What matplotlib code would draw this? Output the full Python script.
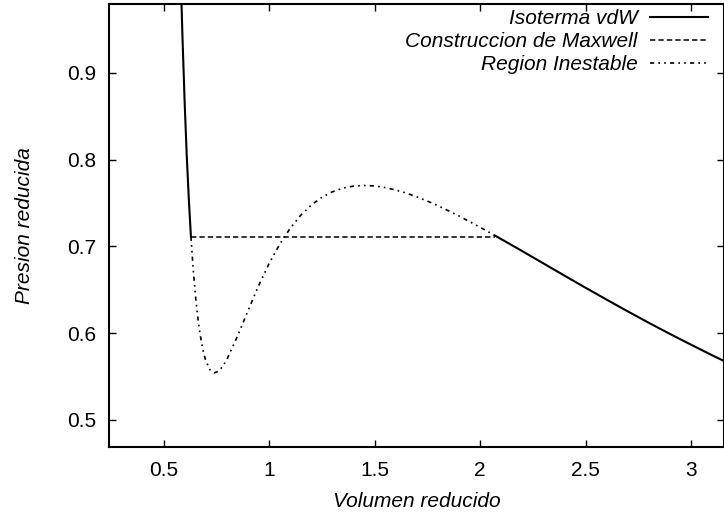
import matplotlib
matplotlib.use("Agg")
import matplotlib.pyplot as plt

plt.rcParams['font.family'] = ['Liberation Sans', 'DejaVu Sans']
plt.rcParams['font.size'] = 15

# Isoterma de van der Waals reducida (T_r = 0.92)
# rama liquida
v_liq = [0.575, 0.58, 0.585, 0.59, 0.60, 0.61, 0.62, 0.63]
p_liq = [1.078, 1.028, 0.982, 0.940, 0.867, 0.805, 0.754, 0.711]

# rama gaseosa
v_gas = [2.07, 2.10, 2.20, 2.30, 2.40, 2.50, 2.60, 2.70, 2.80, 2.90, 3.00, 3.10, 3.20]
p_gas = [0.7125, 0.7084, 0.6945, 0.6804, 0.6663, 0.6523, 0.6386, 0.6251,
         0.6119, 0.5991, 0.5867, 0.5745, 0.5628]

# zona entre los volumenes de coexistencia
v_inest = [0.63, 0.64, 0.65, 0.66, 0.67, 0.68, 0.69, 0.70, 0.72, 0.74, 0.76,
           0.78, 0.80, 0.85, 0.90, 0.95, 1.00, 1.05, 1.10, 1.15, 1.20, 1.25,
           1.30, 1.35, 1.40, 1.45, 1.50, 1.55, 1.60, 1.65, 1.70, 1.75, 1.80,
           1.85, 1.90, 1.95, 2.00, 2.07]
p_inest = [0.7111, 0.6758, 0.6468, 0.6231, 0.6041, 0.5890, 0.5773, 0.5685,
           0.5578, 0.5543, 0.5561, 0.5615, 0.5696, 0.5962, 0.6257, 0.6543,
           0.6800, 0.7022, 0.7207, 0.7357, 0.7475, 0.7564, 0.7628, 0.7670,
           0.7694, 0.7701, 0.7696, 0.7677, 0.7649, 0.7614, 0.7570, 0.7522,
           0.7468, 0.7410, 0.7350, 0.7285, 0.7220, 0.7125]

# recta de Maxwell
v_maxwell = [0.63, 2.07]
p_maxwell = [0.711, 0.711]

fig = plt.figure(figsize=(7.24, 5.17), dpi=100)
ax = fig.add_axes([109 / 724, 70 / 517, 615 / 724, 443.5 / 517])

ax.plot(v_liq + [None] + v_gas, p_liq + [None] + p_gas, color='black',
        lw=1.5, label='Isoterma vdW')
ax.plot(v_maxwell, p_maxwell, color='black', lw=1.1,
        dashes=(3.5, 2.0), label='Construccion de Maxwell')
ax.plot(v_inest, p_inest, color='black', lw=1.2,
        dashes=(2.5, 2.5, 1.0, 2.5, 1.0, 2.5), label='Region Inestable')

ax.set_xlim(0.2417, 3.156)
ax.set_ylim(0.4689, 0.9797)
ax.set_xticks([0.5, 1, 1.5, 2, 2.5, 3])
ax.set_xticklabels(['0.5', '1', '1.5', '2', '2.5', '3'])
ax.set_yticks([0.5, 0.6, 0.7, 0.8, 0.9])
ax.set_yticklabels(['0.5', '0.6', '0.7', '0.8', '0.9'])
ax.tick_params(direction='in', length=5, width=1.0, top=True, right=True, pad=9)
ax.tick_params(axis='x', pad=10)

for s in ax.spines.values():
    s.set_linewidth(1.5)

ax.set_xlabel('Volumen reducido', style='italic', labelpad=9)
ax.set_ylabel('Presion reducida', style='italic', labelpad=24)

ax.legend(loc='upper right', bbox_to_anchor=(0.974, 0.988), frameon=False,
          markerfirst=False, handlelength=2.8, handletextpad=0.58,
          borderpad=0, borderaxespad=0, labelspacing=0.2,
          prop={'style': 'italic', 'size': 15})

fig.savefig('out.png', dpi=100)
